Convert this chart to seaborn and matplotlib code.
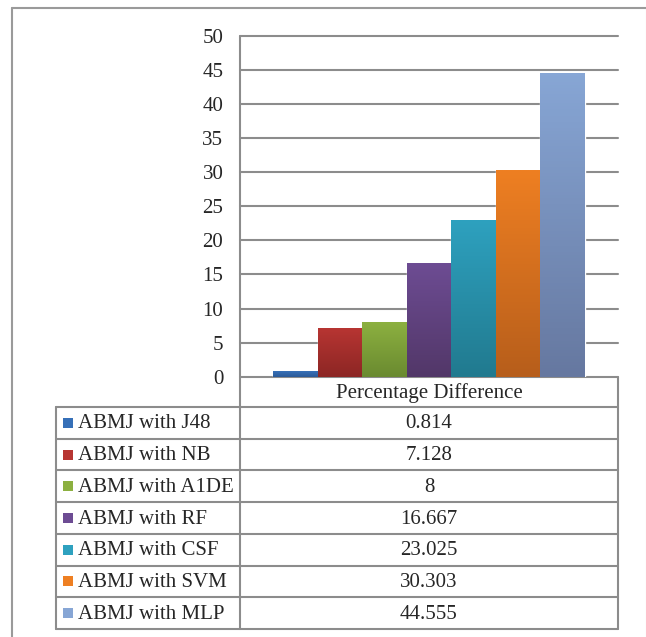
import numpy as np
import pandas as pd
import matplotlib
matplotlib.use("Agg")
import matplotlib.pyplot as plt
import seaborn as sns
from matplotlib.patches import Rectangle
from matplotlib.colors import LinearSegmentedColormap

# data
methods = ["ABMJ with J48", "ABMJ with NB", "ABMJ with A1DE", "ABMJ with RF",
           "ABMJ with CSF", "ABMJ with SVM", "ABMJ with MLP"]
values = [0.814, 7.128, 8, 16.667, 23.025, 30.303, 44.555]
category = "Percentage Difference"
yticks = [0, 5, 10, 15, 20, 25, 30, 35, 40, 45, 50]

# bar colours (top / bottom of the gradient)
top_colors = ["#3670b8", "#b73532", "#8cb040", "#6d4c93", "#2ea1bf", "#ee7f22", "#87a6d5"]
bottom_colors = ["#2a5a98", "#8c2624", "#6a8a30", "#523768", "#217a8f", "#b75e1b", "#6678a0"]

df = pd.DataFrame({"metric": [category] * len(methods), "method": methods, "value": values})

sns.set_style("white")
plt.rcParams["font.family"] = ["Liberation Serif", "DejaVu Serif"]
FS = 15
GRAY = "#8c8c8c"

W, H = 646, 637
fig = plt.figure(figsize=(W / 100, H / 100), dpi=100)

# plot area in pixels
left, right, top, bottom = 240, 618, 35.7, 376.7
ax = fig.add_axes([left / W, 1 - bottom / H, (right - left) / W, (bottom - top) / H])
ax.set_facecolor("none")

sns.barplot(data=df, x="metric", y="value", hue="method", palette=top_colors,
            hue_order=methods, width=0.825, saturation=1, legend=False, ax=ax, zorder=2)

# vertical gradient on each bar
for patch, c1, c2 in zip(ax.patches, top_colors, bottom_colors):
    x0, y0 = patch.get_x(), patch.get_y()
    w, h = patch.get_width(), patch.get_height()
    cmap = LinearSegmentedColormap.from_list("g", [c2, c1])
    grad = np.linspace(0, 1, 100).reshape(-1, 1)
    im = ax.imshow(grad, cmap=cmap, origin="lower", aspect="auto",
                   extent=[x0, x0 + w, y0, y0 + h], zorder=3)
    im.set_clip_path(patch)

ax.set_xlim(-0.5, 0.5)
ax.set_ylim(0, 50)
ax.set_yticks(yticks)
ax.set_yticklabels([str(t) for t in yticks], fontsize=FS)
ax.tick_params(axis="y", length=0, pad=12)
ax.set_xticks([])
ax.set_xlabel("")
ax.set_ylabel("")
for s in ax.spines.values():
    s.set_visible(False)
for t in yticks:
    ax.axhline(t, color=GRAY, lw=1.5, zorder=1, clip_on=False)

# overlay in pixel coordinates for table and frame
ov = fig.add_axes([0, 0, 1, 1])
ov.set_xlim(0, W)
ov.set_ylim(H, 0)
ov.axis("off")

# outer frame
ov.plot([11.5, W], [7.5, 7.5], color="#9a9a9a", lw=1.5)
ov.plot([11.5, 11.5], [7.5, H], color="#9a9a9a", lw=1.5)
ov.plot([W - 0.5, W - 0.5], [7.5, H], color="#e0e0e0", lw=0.8)

# data table
tab_left, tab_bottom = 56, 629
head_bottom = 407
row_h = (tab_bottom - head_bottom) / len(methods)
mid = (left + right) / 2

ov.plot([left, left], [top, tab_bottom], color=GRAY, lw=1.5)
ov.plot([right, right], [bottom, tab_bottom], color=GRAY, lw=1.5)
ov.plot([tab_left, tab_left], [head_bottom, tab_bottom], color=GRAY, lw=1.5)
ov.text(mid, (bottom + head_bottom) / 2 + 1, category, ha="center", va="center", fontsize=FS)

for i in range(len(methods) + 1):
    y = head_bottom + i * row_h
    ov.plot([tab_left, right], [y, y], color=GRAY, lw=1.5)

for i, (m, v, c) in enumerate(zip(methods, values, top_colors)):
    yc = head_bottom + (i + 0.5) * row_h
    ov.add_patch(Rectangle((63, yc - 5), 10, 10, facecolor=c, edgecolor="none"))
    ov.text(78, yc + 1, m, ha="left", va="center", fontsize=FS)
    ov.text(mid, yc + 1, f"{v:g}", ha="center", va="center", fontsize=FS)

fig.savefig("out.png", dpi=100)
